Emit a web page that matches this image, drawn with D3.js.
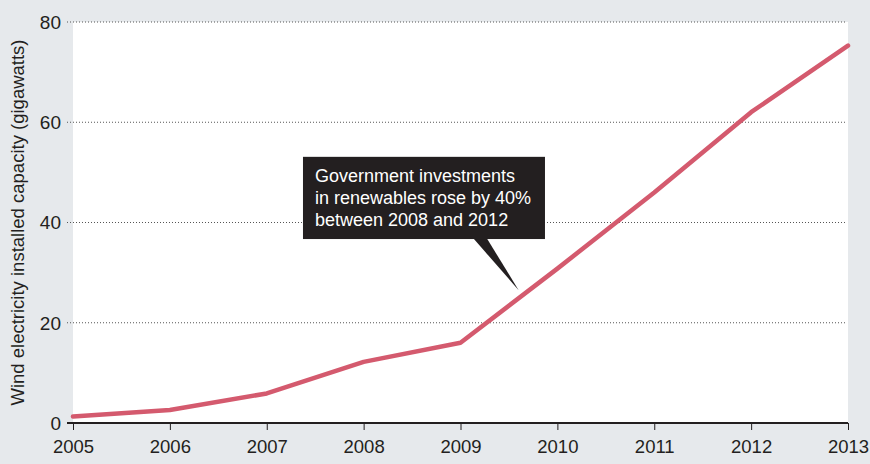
<!DOCTYPE html>
<html>
<head>
<meta charset="utf-8">
<script src="https://cdn.jsdelivr.net/npm/d3@7"></script>
<style>
  body { margin: 0; background: #e6e9ec; }
  svg { display: block; font-family: "Liberation Sans", Arial, sans-serif; }
</style>
</head>
<body>
<svg id="chart" width="870" height="464"></svg>
<script>
const years = [2005, 2006, 2007, 2008, 2009, 2010, 2011, 2012, 2013];
const capacity = [1.3, 2.6, 5.9, 12.2, 16.0, 30.8, 46.0, 62.0, 75.3];
const yTicks = [0, 20, 40, 60, 80];
const calloutLines = ["Government investments", "in renewables rose by 40%", "between 2008 and 2012"];

const svg = d3.select("#chart");
const margin = { left: 73, right: 22, top: 22, bottom: 41 };
const width = 870 - margin.left - margin.right;
const height = 464 - margin.top - margin.bottom;

const x = d3.scaleLinear().domain([2005, 2013]).range([0, width]);
const y = d3.scaleLinear().domain([0, 80]).range([height, 0]);

const g = svg.append("g").attr("transform", `translate(${margin.left},${margin.top})`);

// plot background
g.append("rect").attr("width", width).attr("height", height).attr("fill", "#fff");

// dotted gridlines
g.selectAll(".grid").data(yTicks.filter(d => d > 0)).enter().append("line")
  .attr("x1", -6).attr("x2", width - 3)
  .attr("y1", d => y(d)).attr("y2", d => y(d))
  .attr("stroke", "#555").attr("stroke-width", 1).attr("stroke-dasharray", "1,2");

// y labels
g.selectAll(".ylab").data(yTicks).enter().append("text")
  .attr("x", -12).attr("y", d => y(d)).attr("dy", "0.36em")
  .attr("text-anchor", "end").attr("font-size", 19).attr("fill", "#231f20")
  .text(d => d);

// x axis
const xAxis = d3.axisBottom(x).tickValues(years).tickFormat(d3.format("d")).tickSize(7).tickPadding(10);
const ax = g.append("g").attr("transform", `translate(0,${height})`).call(xAxis);
ax.select(".domain").remove();
ax.selectAll(".tick line").attr("stroke", "#231f20").attr("stroke-width", 1);
ax.selectAll(".tick text").attr("font-size", 18.5).attr("fill", "#231f20")
  .attr("font-family", "Liberation Sans, Arial, sans-serif");
g.append("line").attr("x1", -6).attr("x2", width).attr("y1", height).attr("y2", height)
  .attr("stroke", "#231f20").attr("stroke-width", 2);

// y axis title
svg.append("text")
  .attr("transform", `translate(24,${margin.top + height / 2}) rotate(-90)`)
  .attr("text-anchor", "middle").attr("font-size", 18.5).attr("fill", "#231f20")
  .text("Wind electricity installed capacity (gigawatts)");

// line
const line = d3.line().x((d, i) => x(years[i])).y(d => y(d));
g.append("path").datum(capacity)
  .attr("d", line).attr("fill", "none")
  .attr("stroke", "#d45a6e").attr("stroke-width", 4.5)
  .attr("stroke-linejoin", "round").attr("stroke-linecap", "round");

// callout
const box = { x0: 2007.374, x1: 2009.872, v0: 36.7, v1: 53.1 };
const bx = x(box.x0), bw = x(box.x1) - x(box.x0);
const by = y(box.v1), bh = y(box.v0) - y(box.v1);
const tip = [x(2009.6), y(26.5)];
g.append("path")
  .attr("d", `M${x(2009.13)},${by + bh - 1} L${tip[0]},${tip[1]} L${x(2009.27)},${by + bh - 1} Z`)
  .attr("fill", "#231f20");
g.append("rect").attr("x", bx).attr("y", by).attr("width", bw).attr("height", bh).attr("fill", "#231f20");
g.append("text").attr("x", bx + 12).attr("y", by + 25)
  .attr("font-size", 18).attr("fill", "#fff")
  .selectAll("tspan").data(calloutLines).enter().append("tspan")
  .attr("x", bx + 12).attr("dy", (d, i) => i === 0 ? 0 : 22).text(d => d);
</script>
</body>
</html>
